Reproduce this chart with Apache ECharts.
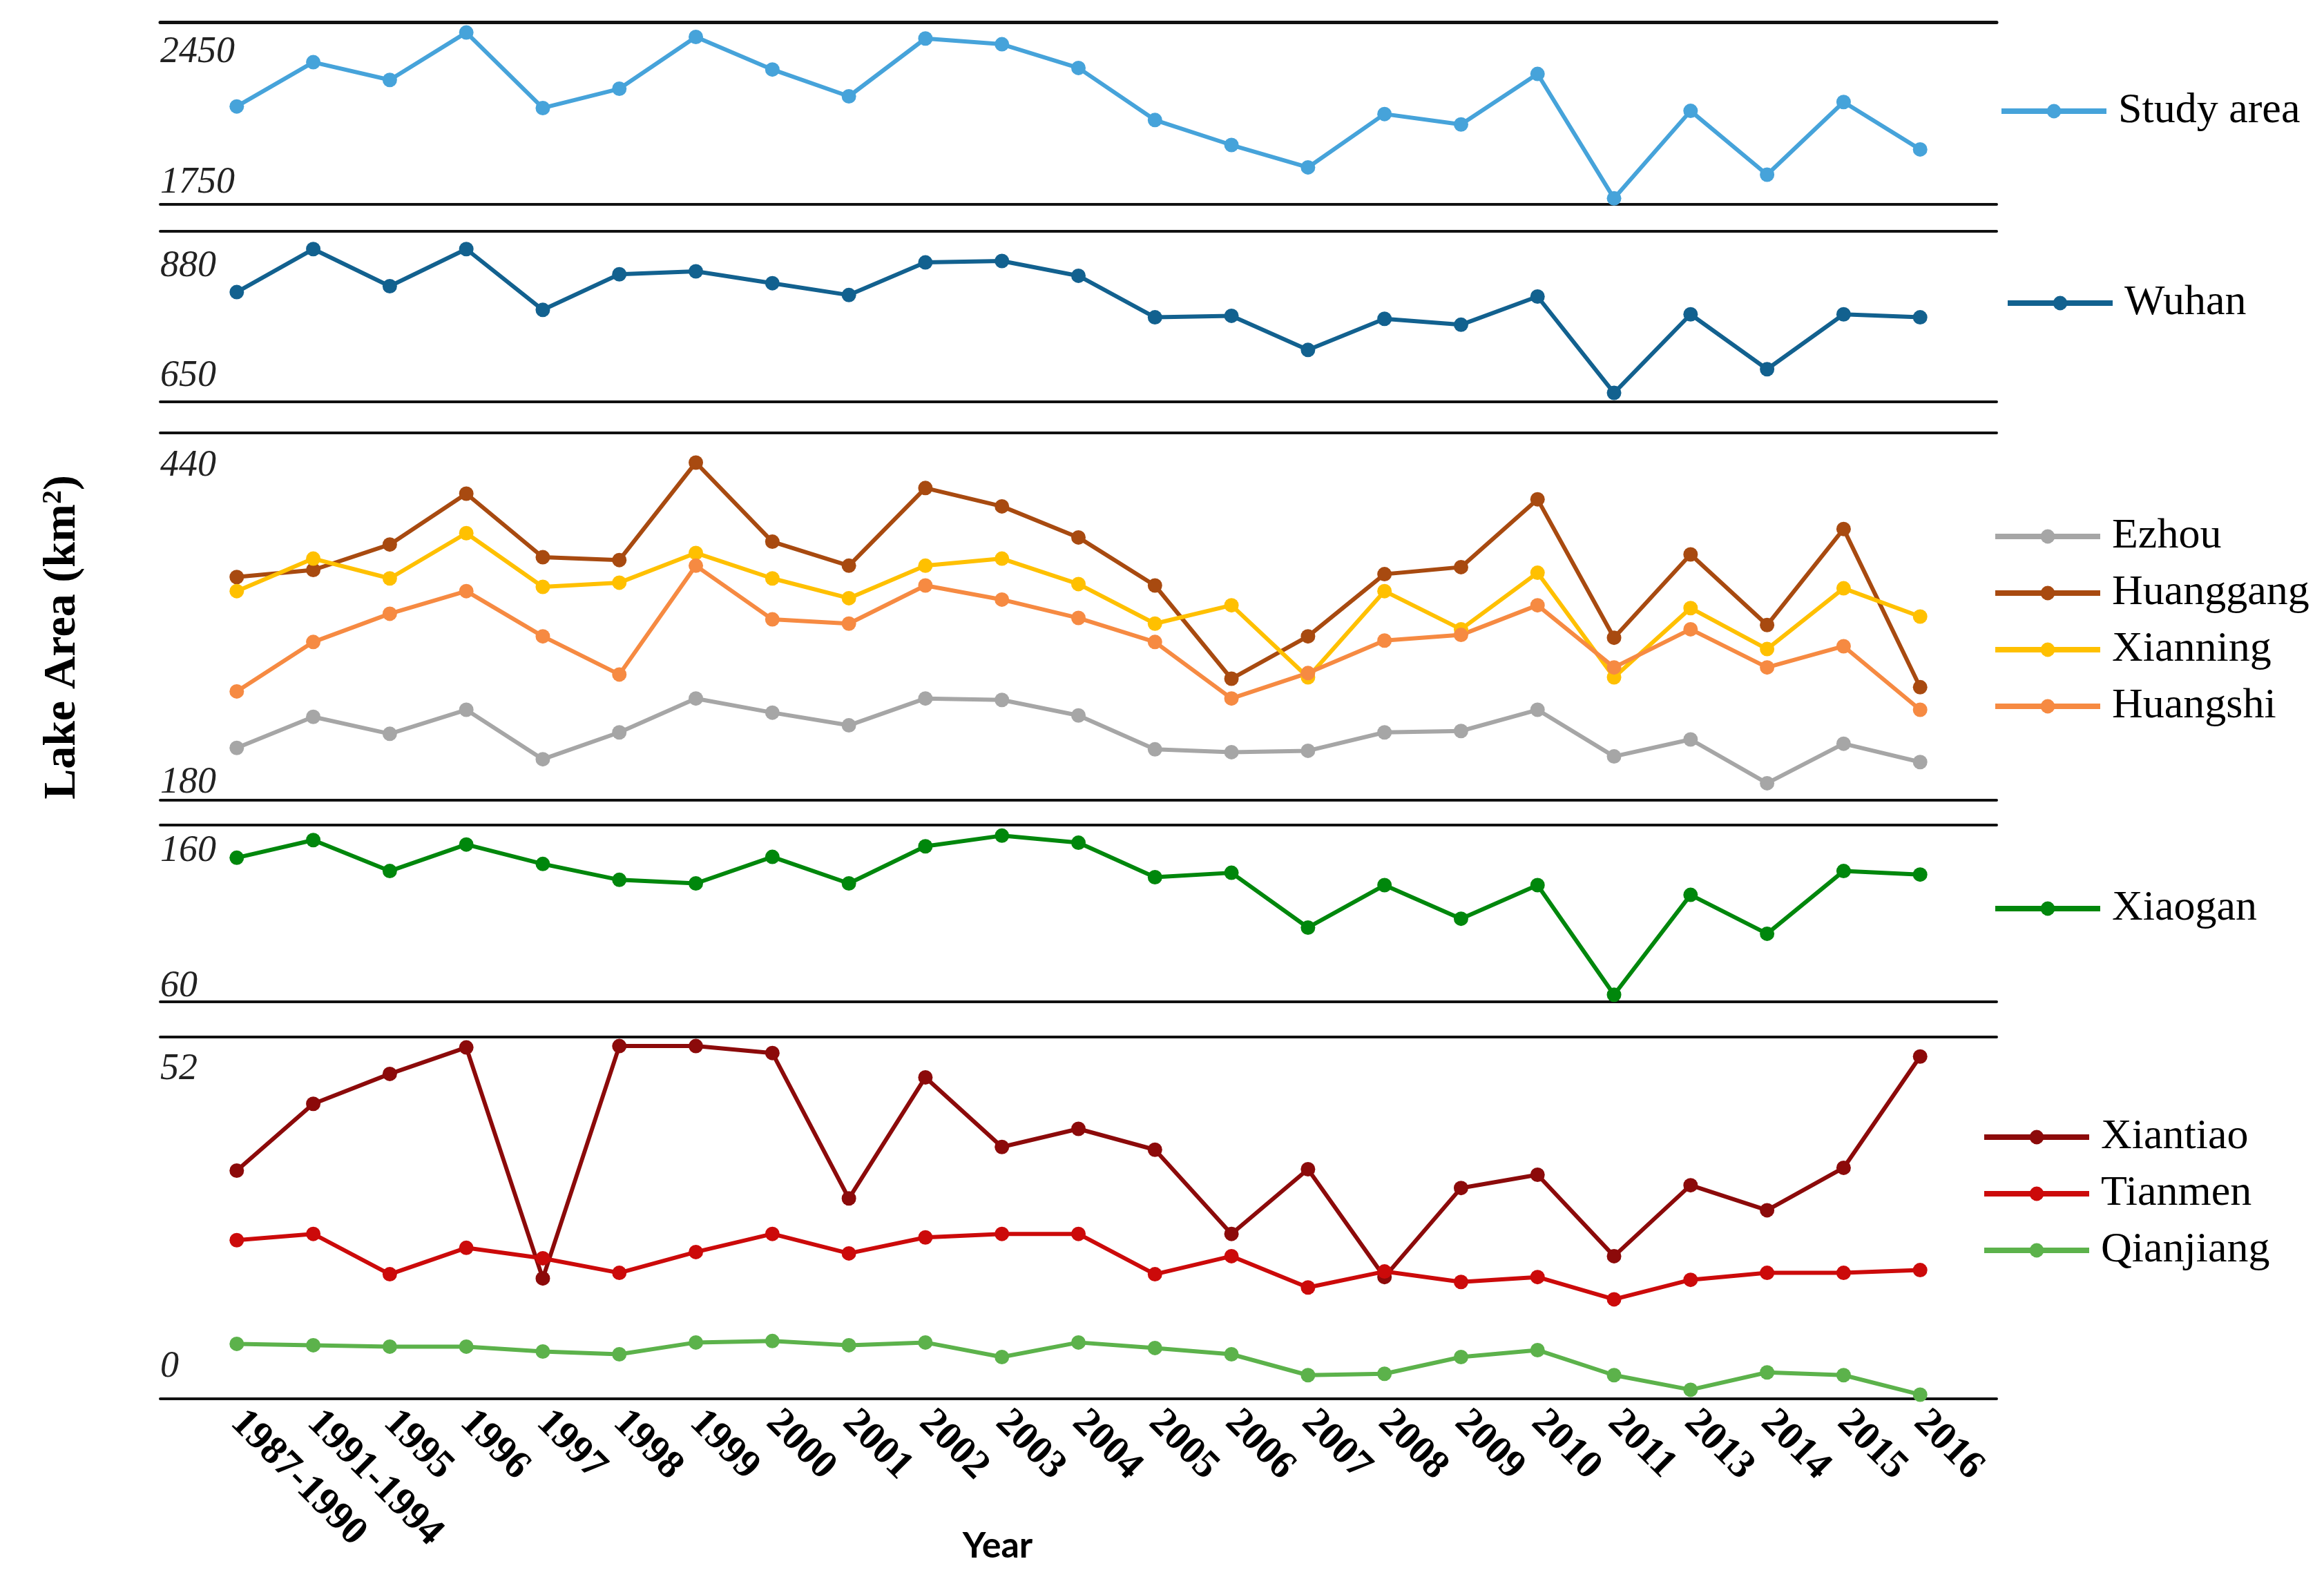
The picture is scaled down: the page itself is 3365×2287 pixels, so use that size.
<!DOCTYPE html>
<html lang="en">
  <head>
    <meta charset="UTF-8" />
    <title>Lake area by city, 1987-2016</title>
    <script src="https://cdn.jsdelivr.net/npm/echarts@6.0.0/dist/echarts.min.js"></script>
    <style>
      html, body { margin: 0; padding: 0; background: #fff; }
      #main { width: 3365px; height: 2287px; }
    </style>
  </head>
  <body>
    <div id="main"></div>

    <script>
      const years = [
        '1987-1990', '1991-1994', '1995', '1996', '1997', '1998', '1999',
        '2000', '2001', '2002', '2003', '2004', '2005', '2006', '2007',
        '2008', '2009', '2010', '2011', '2013', '2014', '2015', '2016',
      ];

      // lake area, km2
      const studyArea = [2126, 2296, 2228, 2410, 2120, 2194, 2393, 2268, 2165, 2387, 2365, 2274,
        2074, 1978, 1892, 2097, 2057, 2251, 1773, 2109, 1864, 2143, 1961];
      const wuhan = [798, 856, 806, 856, 774, 822, 826, 810, 794, 838, 840, 820,
        764, 766, 720, 762, 754, 792, 662, 768, 694, 768, 764];
      const ezhou = [217, 239, 227, 244, 209, 228, 252, 242, 233, 252, 251, 240,
        216, 214, 215, 228, 229, 244, 211, 223, 192, 220, 207];
      const huanggang = [338, 343, 361, 397, 352, 350, 419, 363, 346, 401, 388, 366,
        332, 266, 296, 340, 345, 393, 295, 354, 304, 372, 260];
      const xianning = [328, 351, 337, 369, 331, 334, 355, 337, 323, 346, 351, 333,
        305, 318, 267, 328, 301, 341, 267, 316, 287, 330, 310];
      const huangshi = [257, 292, 312, 328, 296, 269, 346, 308, 305, 332, 322, 309,
        292, 252, 270, 293, 297, 318, 274, 301, 274, 289, 244];
      const xiaogan = [141.5, 151.5, 134, 149, 138, 129, 127, 142, 127, 148, 154, 150,
        130.5, 133, 102, 126, 107, 126, 64, 120.5, 98.5, 134, 132];
      const xiantiao = [32.8, 42.4, 46.7, 50.5, 17.3, 50.7, 50.7, 49.7, 28.8, 46.2, 36.2, 38.8,
        35.8, 23.7, 33.0, 17.5, 30.3, 32.2, 20.5, 30.7, 27.1, 33.2, 49.2];
      const tianmen = [22.8, 23.7, 17.9, 21.7, 20.2, 18.1, 21.1, 23.7, 20.9, 23.2, 23.7, 23.7,
        17.9, 20.5, 16.0, 18.3, 16.8, 17.5, 14.3, 17.1, 18.1, 18.1, 18.5];
      const qianjiang = [7.9, 7.7, 7.5, 7.5, 6.8, 6.4, 8.1, 8.3, 7.7, 8.1, 6.0, 8.1,
        7.3, 6.4, 3.4, 3.6, 6.0, 7.0, 3.4, 1.3, 3.8, 3.4, 0.6];

      // axis ends shown on each panel
      const axisMin = [1750, 650, 180, 60, 0];
      const axisMax = [2450, 880, 440, 160, 52];

      const SERIF = 'Liberation Serif';

      // one panel per group of cities
      const panels = [
        { top: 32, height: 264, labelOff: [44, 31], legend: { left: 2889, top: 125 },
          lines: [['Study area', studyArea, '#46A3DA']] },
        { top: 335, height: 247, labelOff: [51, 37], legend: { left: 2898, top: 403 },
          lines: [['Wuhan', wuhan, '#12618F']] },
        { top: 627, height: 532, labelOff: [48, 25], legend: { left: 2880, top: 741 },
          lines: [
            ['Ezhou', ezhou, '#A6A6A6'],
            ['Huanggang', huanggang, '#A84A10'],
            ['Xianning', xianning, '#FFC000'],
            ['Huangshi', huangshi, '#F68A42'],
          ] },
        { top: 1195, height: 256, labelOff: [38, 22], legend: { left: 2880, top: 1280 },
          lines: [['Xiaogan', xiaogan, '#00870C']] },
        { top: 1502, height: 524, labelOff: [47, 46], legend: { left: 2864, top: 1611 },
          lines: [
            ['Xiantiao', xiantiao, '#8C0A0A'],
            ['Tianmen', tianmen, '#CC0A0A'],
            ['Qianjiang', qianjiang, '#5CB24B'],
          ] },
      ];

      function createXAxis(gridIndex, position, isLast) {
        const axis = {
          type: 'value',
          gridIndex: gridIndex,
          position: position,
          min: -1,
          max: years.length,
          interval: 1,
          axisLine: {
            show: true,
            onZero: false,
            lineStyle: { color: '#111', width: gridIndex === 0 && position === 'top' ? 5 : 4 },
          },
          axisTick: { show: false },
          splitLine: { show: false },
          axisLabel: { show: false },
        };
        if (isLast) {
          axis.axisLabel = {
            show: true,
            rotate: -45,
            margin: 26,
            fontFamily: SERIF,
            fontWeight: 'bold',
            fontSize: 58,
            color: '#000',
            formatter: (v) => years[Math.round(v)] || '',
          };
          axis.name = 'Year';
          axis.nameLocation = 'middle';
          axis.nameGap = 187;
          axis.nameMoveOverlap = false;
          axis.nameTextStyle = {
            fontFamily: 'Lato',
            fontWeight: 'bold',
            fontSize: 52,
            color: '#000',
            padding: [0, 234, 0, 0],
          };
        }
        return axis;
      }

      function createYAxis(k) {
        const min = axisMin[k];
        const max = axisMax[k];
        const off = panels[k].labelOff;
        const labelFont = { fontFamily: SERIF, fontStyle: 'italic', fontSize: 54, color: '#222' };
        const axis = {
          type: 'value',
          gridIndex: k,
          min: min,
          max: max,
          axisLine: { show: false },
          axisTick: { show: false },
          splitLine: { show: false },
          axisLabel: Object.assign({}, labelFont, {
            inside: true,
            margin: 0,
            customValues: [min, max],
            formatter: (v) => (v === max ? '{hi|' + v + '}' : '{lo|' + v + '}'),
            rich: {
              hi: Object.assign({}, labelFont, { padding: [off[0] * 2, 0, 0, 0] }),
              lo: Object.assign({}, labelFont, { padding: [0, 0, off[1] * 2, 0] }),
            },
          }),
        };
        if (k === 2) {
          axis.name = 'Lake Area (km{sup|2})';
          axis.nameLocation = 'middle';
          axis.nameRotate = 90;
          axis.nameGap = 108;
          axis.nameMoveOverlap = false;
          axis.nameTextStyle = {
            fontFamily: SERIF,
            fontWeight: 'bold',
            fontSize: 66,
            color: '#000',
            padding: [0, 60, 0, 0],
            rich: {
              sup: { fontFamily: SERIF, fontWeight: 'bold', fontSize: 40, verticalAlign: 'top' },
            },
          };
        }
        return axis;
      }

      const grid = [];
      const xAxis = [];
      const yAxis = [];
      const legend = [];
      const series = [];

      panels.forEach((p, k) => {
        grid.push({ left: 232, right: 474, top: p.top, height: p.height, outerBoundsMode: 'none' });
        xAxis.push(createXAxis(k, 'bottom', k === panels.length - 1));
        xAxis.push(createXAxis(k, 'top', false));
        yAxis.push(createYAxis(k));
        legend.push({
          orient: 'vertical',
          left: p.legend.left,
          top: p.legend.top,
          itemWidth: 152,
          itemHeight: 26,
          itemGap: 20,
          data: p.lines.map((l) => l[0]),
          lineStyle: { width: 8 },
          textStyle: {
            fontFamily: SERIF,
            fontSize: 62,
            lineHeight: 62,
            color: '#000',
            padding: [0, 0, 0, 12],
          },
        });
        p.lines.forEach(([name, values, color]) => {
          series.push({
            name: name,
            type: 'line',
            xAxisIndex: k * 2,
            yAxisIndex: k,
            data: values.map((v, i) => [i, v]),
            symbol: 'circle',
            symbolSize: 21,
            lineStyle: { color: color, width: 6 },
            itemStyle: { color: color },
            emphasis: { disabled: true },
          });
        });
      });

      const options = {
        animation: false,
        backgroundColor: '#fff',
        grid: grid,
        xAxis: xAxis,
        yAxis: yAxis,
        legend: legend,
        series: series,
      };

      var myChart = echarts.init(document.querySelector('#main'));
      myChart.setOption(options);

      window.onresize = function () {
        myChart.resize();
      };
    </script>
  </body>
</html>
